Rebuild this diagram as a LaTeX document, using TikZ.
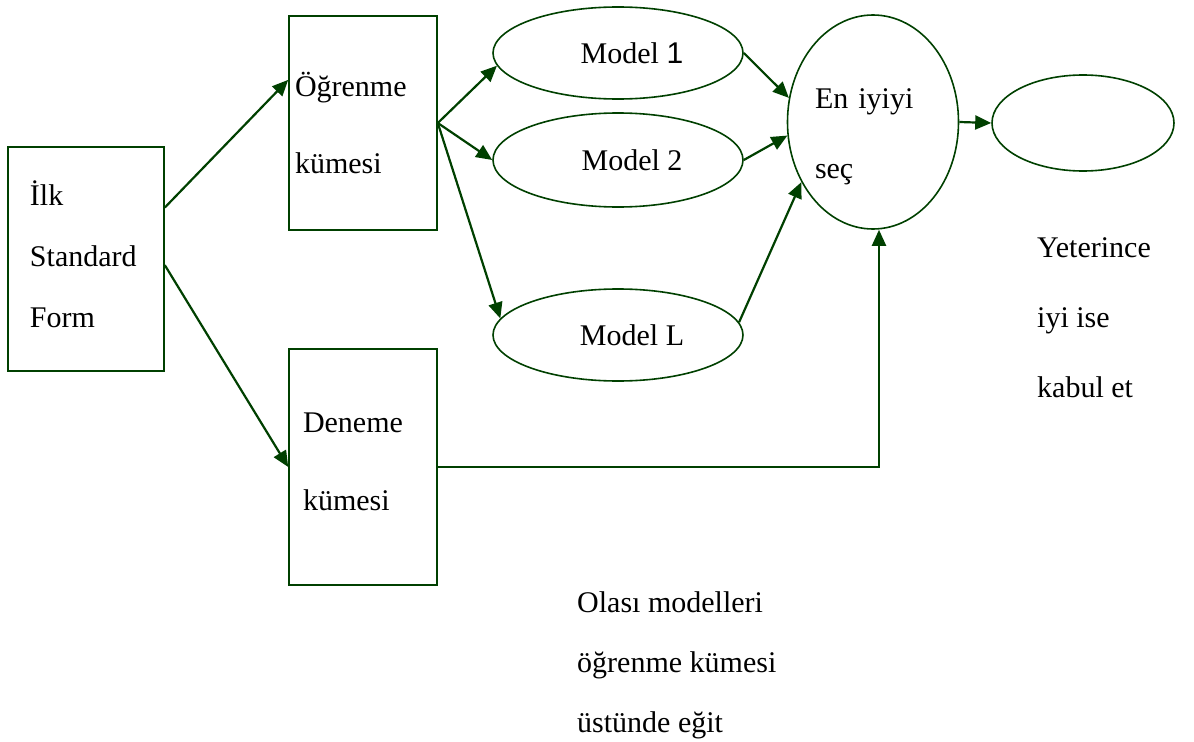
\documentclass[tikz,border=0pt]{standalone}
\usepackage{fontspec}
\setmainfont{Liberation Serif}
\newfontfamily\arialf{Liberation Sans}
\usetikzlibrary{arrows.meta,shapes.geometric,calc}
\definecolor{dg}{RGB}{0,64,0}
\tikzset{
  box/.style={draw=dg, line width=1.6bp, rectangle, inner sep=0pt, align=left},
  oval/.style={draw=dg, line width=1.6bp, ellipse, inner sep=0pt},
  conn/.style={draw=dg, line width=2.2bp, -{Triangle[length=16bp,width=14bp]}},
  lbl/.style={inner sep=0pt, align=left, anchor=west},
}
\begin{document}
\begin{tikzpicture}[x=1bp,y=-1bp, font=\fontsize{30bp}{36bp}\selectfont]
\useasboundingbox (0,0) rectangle (1194,742);
% boxes
\node[box, minimum width=156bp, minimum height=224bp, text width=112bp,
      font=\fontsize{30bp}{61bp}\selectfont] (ilk) at (86,259) {İlk\\Standard\\Form\rule[-10bp]{0pt}{10bp}};
\node[box, minimum width=148bp, minimum height=214bp, text width=136bp,
      font=\fontsize{30bp}{77bp}\selectfont] (ogr) at (363,123) {Öğrenme\\kümesi};
\node[box, minimum width=148bp, minimum height=236bp, text width=120bp,
      font=\fontsize{30bp}{78bp}\selectfont] (den) at (363,467) {Deneme\\kümesi\rule[-10bp]{0pt}{10bp}};
% ellipses
\node[oval, minimum width=250bp, minimum height=92bp] (m1) at (618,53) {\hspace*{28bp}Model {\arialf 1}};
\node[oval, minimum width=250bp, minimum height=94bp] (m2) at (618,160) {\hspace*{28bp}Model 2};
\node[oval, minimum width=250bp, minimum height=92bp] (ml) at (618,335) {\hspace*{28bp}Model L};
\node[oval, minimum width=171bp, minimum height=214bp, text width=116bp, align=left,
      font=\fontsize{30bp}{70bp}\selectfont] (best) at (873,122) {\rule{0pt}{49bp}En iyiyi\\seç};
\node[oval, minimum width=182bp, minimum height=96bp] (res) at (1083,123) {};
% free labels
\node[lbl, font=\fontsize{30bp}{70bp}\selectfont] (yet) at (1037,318) {Yeterince\\iyi ise\\kabul et};
\node[lbl, font=\fontsize{30bp}{60bp}\selectfont] (olasi) at (577,665) {Olası modelleri\\öğrenme kümesi\\üstünde eğit};
% connectors
\draw[conn] ($(ilk.north east)!0.272!(ilk.south east)$) -- ($(ogr.north west)!0.30!(ogr.south west)$);
\draw[conn] ($(ilk.north east)!0.527!(ilk.south east)$) -- (den.west);
\draw[conn] (ogr.east) -- (m1.186);
\draw[conn] (ogr.east) -- (m2.west);
\draw[conn] (ogr.east) -- (ml.172);
\draw[conn] (m1.east) -- (best.164);
\draw[conn] (m2.east) -- (best.189);
\draw[conn] (ml.6) -- (best.220);
\draw[conn] (best.east) -- (res.west);
\draw[conn] (den.east) -| ($(best.south)+(6,0)$);
\end{tikzpicture}
\end{document}
